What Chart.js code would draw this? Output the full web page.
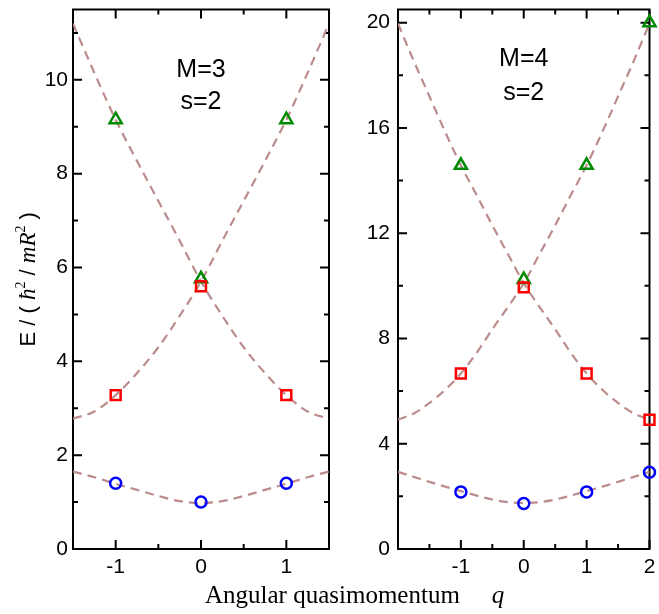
<!DOCTYPE html>
<html>
<head>
<meta charset="utf-8">
<script src="https://cdn.jsdelivr.net/npm/chart.js@4.4.0/dist/chart.umd.min.js"></script>
<style>
  html, body { margin: 0; padding: 0; background: #fff; }
  #wrap { position: relative; width: 659px; height: 614px; overflow: hidden; }
  #left { position: absolute; left: 0; top: 0; }
  #right { position: absolute; left: 340px; top: 0; }
  #xtitle {
    position: absolute; left: 205px; top: 582px;
    font-family: 'Liberation Serif', 'Times New Roman', serif;
    font-size: 25px; line-height: 25px; white-space: pre; color: #000;
  }
  #xtitle i { margin-left: 32px; }
</style>
</head>
<body>
<div id="wrap">
  <canvas id="left" width="340" height="614"></canvas>
  <canvas id="right" width="319" height="614"></canvas>
  <div id="xtitle">Angular quasimomentum<i>q</i></div>
</div>
<script>
// ---- M=3, s=2 ----
const q3 = [-1.5, -1.25, -1, -0.75, -0.5, -0.25, 0, 0.25, 0.5, 0.75, 1, 1.25, 1.5];
const low3 = [1.65, 1.53, 1.39, 1.26, 1.13, 1.02, 0.98, 1.02, 1.13, 1.26, 1.39, 1.53, 1.65];
const rise3 = [2.78, 2.93, 3.28, 3.75, 4.3, 4.97, 5.7, 6.57, 7.42, 8.27, 9.15, 10.15, 11.2];
const fall3 = [11.2, 10.15, 9.15, 8.27, 7.42, 6.57, 5.7, 4.97, 4.3, 3.75, 3.28, 2.93, 2.78];
const qPts3 = [-1, 0, 1];
const circ3 = [1.4, 1.0, 1.4];
const sq3 = [3.28, 5.6, 3.28];
const tri3 = [9.15, 5.76, 9.15];
const xTicks3 = [-1, 0, 1];
const xMinor3 = [-0.5, 0.5];
const yTicks3 = [0, 2, 4, 6, 8, 10];
const yMinor3 = [1, 3, 5, 7, 9, 11];

// ---- M=4, s=2 ----
const q4 = [-2, -1.75, -1.5, -1.25, -1, -0.75, -0.5, -0.25, 0, 0.25, 0.5, 0.75, 1, 1.25, 1.5, 1.75, 2];
const low4 = [2.93, 2.74, 2.55, 2.37, 2.2, 2.03, 1.88, 1.78, 1.75, 1.78, 1.88, 2.03, 2.2, 2.37, 2.55, 2.74, 2.93];
const rise4 = [4.92, 5.15, 5.55, 6.05, 6.67, 7.45, 8.35, 9.2, 10.1, 11.2, 12.3, 13.45, 14.58, 15.85, 17.2, 18.55, 19.97];
const fall4 = [19.97, 18.55, 17.2, 15.85, 14.58, 13.45, 12.3, 11.2, 10.1, 9.2, 8.35, 7.45, 6.67, 6.05, 5.55, 5.15, 4.92];
const qPts4 = [-1, 0, 1, 2];
const circ4 = [2.17, 1.73, 2.17, 2.92];
const sq4 = [6.67, 9.94, 6.67, 4.91];
const tri4 = [14.58, 10.24, 14.58, 20.0];
const xTicks4 = [-1, 0, 1, 2];
const xMinor4 = [-1.5, -0.5, 0.5, 1.5];
const yTicks4 = [0, 4, 8, 12, 16, 20];
const yMinor4 = [2, 6, 10, 14, 18];

const CURVE = 'rgb(188,140,140)';
const SANS = "'Liberation Sans', Arial, Helvetica, sans-serif";
const SERIF = "'Liberation Serif', 'Times New Roman', serif";

const pts = (xs, ys) => xs.map((x, i) => ({ x: x, y: ys[i] }));

function curve(xs, ys) {
  return {
    data: pts(xs, ys), showLine: true, pointRadius: 0, order: 2,
    borderColor: CURVE, borderWidth: 2.2, borderDash: [9, 6],
    cubicInterpolationMode: 'monotone'
  };
}

function markers(xs, ys, style, color, r) {
  return {
    data: pts(xs, ys), showLine: false, order: 0, clip: false,
    pointStyle: style, pointRadius: r, pointBorderWidth: 2.5,
    pointBorderColor: color, pointBackgroundColor: 'rgba(255,255,255,0)',
    borderColor: color
  };
}

// frame with inward major/minor ticks on all four sides
const framePlugin = {
  id: 'frame',
  beforeDatasetsDraw(chart, args, o) {
    const { ctx, chartArea: a, scales: { x, y } } = chart;
    ctx.save();
    ctx.strokeStyle = '#000';
    ctx.lineWidth = 2;
    const tick = (vals, len) => {
      vals.forEach(v => {
        const px = x.getPixelForValue(v);
        ctx.beginPath();
        ctx.moveTo(px, a.bottom); ctx.lineTo(px, a.bottom - len);
        ctx.moveTo(px, a.top); ctx.lineTo(px, a.top + len);
        ctx.stroke();
      });
    };
    const ytick = (vals, len) => {
      vals.forEach(v => {
        const py = y.getPixelForValue(v);
        ctx.beginPath();
        ctx.moveTo(a.left, py); ctx.lineTo(a.left + len, py);
        ctx.moveTo(a.right, py); ctx.lineTo(a.right - len, py);
        ctx.stroke();
      });
    };
    tick(o.xMajor, 9); tick(o.xMinor, 5);
    ytick(o.yMajor, 9); ytick(o.yMinor, 5);
    ctx.strokeRect(a.left, a.top, a.right - a.left, a.bottom - a.top);
    ctx.restore();
  }
};

// panel captions and the energy axis title
const textPlugin = {
  id: 'texts',
  afterDraw(chart, args, o) {
    const { ctx, scales: { x, y } } = chart;
    ctx.save();
    ctx.fillStyle = '#000';
    ctx.font = '25px ' + SANS;
    ctx.textAlign = 'center';
    ctx.textBaseline = 'middle';
    (o.labels || []).forEach(l => {
      ctx.fillText(l.text, x.getPixelForValue(l.x), y.getPixelForValue(l.y));
    });
    if (o.yTitle) {
      const parts = [
        { t: 'E / ( ', f: '22px ' + SANS, dy: 0 },
        { t: 'ħ', f: 'italic 23px ' + SERIF, dy: 0 },
        { t: '2', f: '14px ' + SERIF, dy: -10 },
        { t: ' / ', f: '22px ' + SANS, dy: 0 },
        { t: 'mR', f: 'italic 23px ' + SERIF, dy: 0 },
        { t: '2', f: '14px ' + SERIF, dy: -10 },
        { t: ' )', f: '22px ' + SANS, dy: 0 }
      ];
      let total = 0;
      parts.forEach(p => { ctx.font = p.f; p.w = ctx.measureText(p.t).width; total += p.w; });
      ctx.translate(o.yTitle.x, (chart.chartArea.top + chart.chartArea.bottom) / 2);
      ctx.rotate(-Math.PI / 2);
      ctx.textAlign = 'left';
      ctx.textBaseline = 'alphabetic';
      let cx = -total / 2;
      parts.forEach(p => { ctx.font = p.f; ctx.fillText(p.t, cx, p.dy); cx += p.w; });
    }
    ctx.restore();
  }
};

function makePanel(id, cfg) {
  const tickFont = { family: SANS, size: 21 };
  new Chart(document.getElementById(id), {
    type: 'scatter',
    data: {
      datasets: [
        markers(cfg.qPts, cfg.circ, 'circle', '#0000ff', 5.5),
        markers(cfg.qPts, cfg.sq, 'rect', '#ff0000', 7),
        markers(cfg.qPts, cfg.tri, 'triangle', '#008a00', 7),
        curve(cfg.q, cfg.low),
        curve(cfg.q, cfg.rise),
        curve(cfg.q, cfg.fall)
      ]
    },
    options: {
      responsive: false,
      animation: false,
      events: [],
      layout: { padding: { top: cfg.top, right: cfg.right, left: 0, bottom: 0 } },
      plugins: {
        legend: { display: false },
        tooltip: { enabled: false },
        frame: { xMajor: cfg.xTicks, xMinor: cfg.xMinor, yMajor: cfg.yTicks, yMinor: cfg.yMinor },
        texts: { labels: cfg.labels, yTitle: cfg.yTitle }
      },
      scales: {
        x: {
          type: 'linear', min: cfg.xMin, max: cfg.xMax,
          grid: { display: false, drawTicks: false },
          border: { display: false },
          ticks: { font: tickFont, color: '#000', padding: 6, maxRotation: 0 },
          afterBuildTicks: s => { s.ticks = cfg.xTicks.map(v => ({ value: v })); },
          afterFit: s => { s.height = 65; s.paddingLeft = 0; s.paddingRight = 0; }
        },
        y: {
          type: 'linear', min: 0, max: cfg.yMax,
          grid: { display: false, drawTicks: false },
          border: { display: false },
          ticks: { font: tickFont, color: '#000', padding: cfg.yPad },
          afterBuildTicks: s => { s.ticks = cfg.yTicks.map(v => ({ value: v })); },
          afterFit: s => { s.width = cfg.yWidth; s.paddingTop = 0; s.paddingBottom = 0; }
        }
      }
    },
    plugins: [framePlugin, textPlugin]
  });
}

makePanel('left', {
  q: q3, low: low3, rise: rise3, fall: fall3,
  qPts: qPts3, circ: circ3, sq: sq3, tri: tri3,
  xTicks: xTicks3, xMinor: xMinor3, yTicks: yTicks3, yMinor: yMinor3,
  xMin: -1.5, xMax: 1.5, yMax: 11.5,
  top: 5, right: 11, yWidth: 73, yPad: 5,
  labels: [{ text: 'M=3', x: 0, y: 10.2 }, { text: 's=2', x: 0, y: 9.53 }],
  yTitle: { x: 35 }
});

makePanel('right', {
  q: q4, low: low4, rise: rise4, fall: fall4,
  qPts: qPts4, circ: circ4, sq: sq4, tri: tri4,
  xTicks: xTicks4, xMinor: xMinor4, yTicks: yTicks4, yMinor: yMinor4,
  xMin: -2, xMax: 2, yMax: 20.5,
  top: 7, right: 6, yWidth: 58, yPad: 8,
  labels: [{ text: 'M=4', x: 0, y: 18.6 }, { text: 's=2', x: 0, y: 17.32 }]
});
</script>
</body>
</html>
